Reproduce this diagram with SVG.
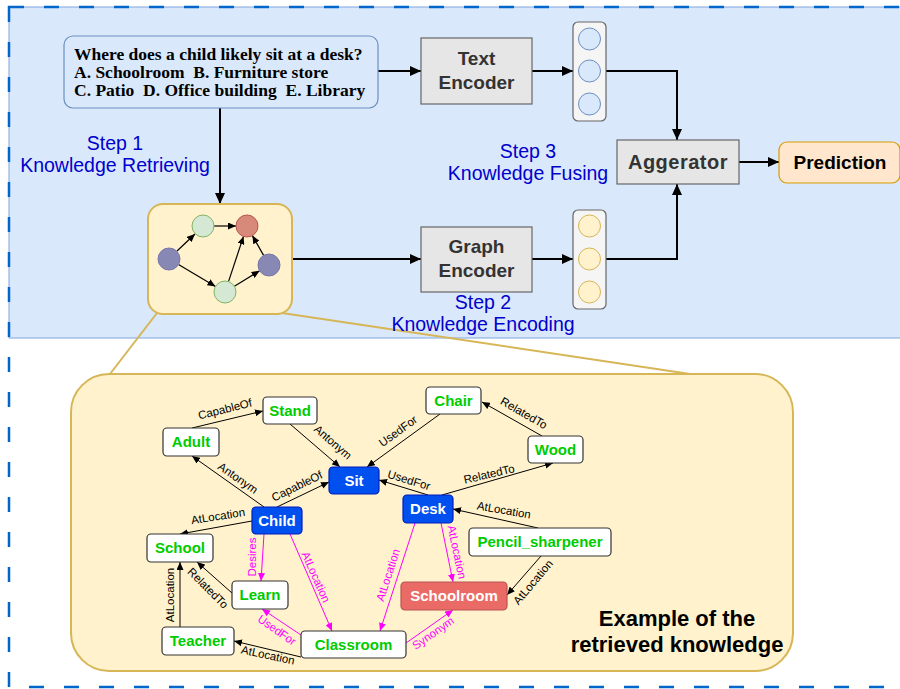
<svg xmlns="http://www.w3.org/2000/svg" width="900" height="689" viewBox="0 0 900 689">
<defs>
<style>
.q{font-family:"Liberation Serif","Times New Roman",serif;font-weight:bold;font-size:17.5px;fill:#000;white-space:pre}
.enc{font-family:"Liberation Sans",Arial,sans-serif;font-weight:bold;font-size:19px;fill:#333;text-anchor:middle}
.step{font-family:"Liberation Sans",Arial,sans-serif;font-size:19.5px;fill:#0000cc;text-anchor:middle}
.box{fill:#e6e6e6;stroke:#666;stroke-width:1.2}
.vec{fill:#f5f5f5;stroke:#666;stroke-width:1.2}
.vb{fill:#dae8fc;stroke:#6c8ebf;stroke-width:1}
.vy{fill:#fff2cc;stroke:#d6b656;stroke-width:1}
.main{stroke:#000;stroke-width:2;fill:none}
.tan{stroke:#d6b656;stroke-width:2;fill:none}
.ic{stroke:#000;stroke-width:1.2;fill:none}
.kn{fill:#fff;stroke:#333;stroke-width:1.2}
.kb{fill:#0050ef;stroke:#001dbc;stroke-width:1.2}
.kr{fill:#ea6b66;stroke:#b85450;stroke-width:1.2}
.nt{font-family:"Liberation Sans",Arial,sans-serif;font-weight:bold;font-size:15px;text-anchor:middle}
.g{fill:#00cc00}
.w{fill:#fff}
.e{stroke:#000;stroke-width:1;fill:none}
.m{stroke:#ff00ff;stroke-width:1;fill:none}
.el{font-family:"Liberation Sans",Arial,sans-serif;font-size:11.5px;fill:#000;text-anchor:middle}
.elm{font-family:"Liberation Sans",Arial,sans-serif;font-size:11.5px;fill:#ff00ff;text-anchor:middle}
.ex{font-family:"Liberation Sans",Arial,sans-serif;font-weight:bold;font-size:22px;fill:#000;text-anchor:middle}
</style>
<marker id="ah" markerUnits="userSpaceOnUse" markerWidth="11" markerHeight="10" refX="11" refY="5" orient="auto"><path d="M0,0 L11,5 L0,10 z" fill="#000"/></marker>
<marker id="ahs" markerUnits="userSpaceOnUse" markerWidth="8" markerHeight="7" refX="8" refY="3.5" orient="auto"><path d="M0,0 L8,3.5 L0,7 z" fill="#000"/></marker>
<marker id="ahm" markerUnits="userSpaceOnUse" markerWidth="8" markerHeight="7" refX="8" refY="3.5" orient="auto"><path d="M0,0 L8,3.5 L0,7 z" fill="#ff00ff"/></marker>
</defs>

<!-- background regions -->
<rect x="9" y="7" width="900" height="331" fill="#dae8fc" stroke="#7ea6e0" stroke-width="1"/>
<rect x="9" y="7" width="920" height="680" fill="none" stroke="#0066cc" stroke-width="2.5" stroke-dasharray="15 20"/>

<!-- zoom connectors -->
<g id="zoom-lines">
<line class="tan" x1="157" y1="313" x2="110" y2="374"/>
<line class="tan" x1="282" y1="313" x2="690" y2="374"/>
</g>

<!-- main connectors -->
<g id="connectors">
<line class="main" x1="378" y1="71" x2="421" y2="71" marker-end="url(#ah)"/>
<line class="main" x1="532" y1="71" x2="573" y2="71" marker-end="url(#ah)"/>
<polyline class="main" points="606,71 677,71 677,140" marker-end="url(#ah)"/>
<line class="main" x1="220" y1="108" x2="220" y2="204" marker-end="url(#ah)"/>
<line class="main" x1="292" y1="259" x2="421" y2="259" marker-end="url(#ah)"/>
<line class="main" x1="532" y1="259" x2="573" y2="259" marker-end="url(#ah)"/>
<polyline class="main" points="606,259 677,259 677,184" marker-end="url(#ah)"/>
<line class="main" x1="739" y1="162" x2="779" y2="162" marker-end="url(#ah)"/>
</g>

<g id="question">
<rect x="64" y="36" width="314" height="72" rx="9" fill="#dae8fc" stroke="#6c8ebf" stroke-width="1.2"/>
<text class="q" x="74" y="60">Where does a child likely sit at a desk?</text>
<text class="q" x="74" y="78">A. Schoolroom  B. Furniture store</text>
<text class="q" x="74" y="96">C. Patio  D. Office building  E. Library</text>
</g>

<g id="text-encoder">
<rect class="box" x="421" y="38" width="111" height="66"/>
<text class="enc" x="476.5" y="65">Text</text>
<text class="enc" x="476.5" y="89">Encoder</text>
</g>

<g id="text-vector">
<rect class="vec" x="573" y="22" width="33" height="99" rx="5"/>
<circle class="vb" cx="589.5" cy="39" r="11"/>
<circle class="vb" cx="589.5" cy="71" r="11"/>
<circle class="vb" cx="589.5" cy="104" r="11"/>
</g>

<g id="graph-encoder">
<rect class="box" x="421" y="227" width="111" height="65"/>
<text class="enc" x="476.5" y="253">Graph</text>
<text class="enc" x="476.5" y="277">Encoder</text>
</g>

<g id="graph-vector">
<rect class="vec" x="573" y="210" width="33" height="99" rx="5"/>
<circle class="vy" cx="589.5" cy="226" r="11"/>
<circle class="vy" cx="589.5" cy="259" r="11"/>
<circle class="vy" cx="589.5" cy="292" r="11"/>
</g>

<g id="aggregator">
<rect class="box" x="617" y="140" width="122" height="44"/>
<text class="enc" x="678" y="169" style="font-size:20px;letter-spacing:0.5px">Aggerator</text>
</g>

<g id="prediction">
<rect x="779" y="142" width="121" height="41" rx="8" fill="#ffe6cc" stroke="#d79b00" stroke-width="1.2"/>
<text class="enc" x="840" y="169" style="fill:#000">Prediction</text>
</g>

<g id="step1">
<text class="step" x="115" y="150">Step 1</text>
<text class="step" x="115" y="172">Knowledge Retrieving</text>
</g>
<g id="step2">
<text class="step" x="483" y="309">Step 2</text>
<text class="step" x="483" y="331">Knowledge Encoding</text>
</g>
<g id="step3">
<text class="step" x="528" y="158">Step 3</text>
<text class="step" x="528" y="180">Knowledge Fusing</text>
</g>

<g id="graph-icon">
<rect x="148" y="204" width="144" height="110" rx="15" fill="#fff2cc" stroke="#d6b656" stroke-width="2"/>
<line class="ic" x1="177" y1="251" x2="195" y2="234" marker-end="url(#ahs)"/>
<line class="ic" x1="214" y1="226" x2="236" y2="226" marker-end="url(#ahs)"/>
<line class="ic" x1="178.5" y1="264.6" x2="215.5" y2="286.4" marker-end="url(#ahs)"/>
<line class="ic" x1="228.5" y1="281.6" x2="243.5" y2="236.4" marker-end="url(#ahs)"/>
<line class="ic" x1="234.4" y1="286.2" x2="259.6" y2="270.8" marker-end="url(#ahs)"/>
<line class="ic" x1="263.6" y1="255.4" x2="252.4" y2="235.6" marker-end="url(#ahs)"/>
<circle cx="203" cy="226" r="11" fill="#d5e8d4" stroke="#82b366"/>
<circle cx="247" cy="226" r="11" fill="#d88a7a" stroke="#b85450"/>
<circle cx="169" cy="259" r="11" fill="#8888b5" stroke="#7777aa"/>
<circle cx="269" cy="265" r="11" fill="#8888b5" stroke="#7777aa"/>
<circle cx="225" cy="292" r="11" fill="#d5e8d4" stroke="#82b366"/>
</g>

<g id="knowledge-box">
<rect x="71" y="374" width="722" height="297" rx="38" fill="#fff2cc" stroke="#d6b656" stroke-width="2"/>
<text class="ex" x="677" y="626">Example of the</text>
<text class="ex" x="677" y="652">retrieved knowledge</text>
</g>

<!-- knowledge graph edges -->
<g id="kg-edges">
<line class="e" x1="192" y1="428" x2="263" y2="411" marker-end="url(#ahs)"/>
<text class="el" transform="translate(225,409) rotate(-14)" dy="0.35em">CapableOf</text>
<line class="e" x1="290" y1="424" x2="340" y2="467" marker-end="url(#ahs)"/>
<text class="el" transform="translate(333,442) rotate(41)" dy="0.35em">Antonym</text>
<line class="e" x1="264" y1="507" x2="192" y2="456" marker-end="url(#ahs)"/>
<text class="el" transform="translate(238,478) rotate(35)" dy="0.35em">Antonym</text>
<line class="e" x1="277" y1="507" x2="329" y2="482" marker-end="url(#ahs)"/>
<text class="el" transform="translate(297,486) rotate(-26)" dy="0.35em">CapableOf</text>
<line class="e" x1="252" y1="521" x2="180" y2="534" marker-end="url(#ahs)"/>
<text class="el" transform="translate(218,516) rotate(-9)" dy="0.35em">AtLocation</text>
<line class="e" x1="440" y1="414" x2="367" y2="467" marker-end="url(#ahs)"/>
<text class="el" transform="translate(398,431) rotate(-36)" dy="0.35em">UsedFor</text>
<line class="e" x1="542" y1="436" x2="482" y2="402" marker-end="url(#ahs)"/>
<text class="el" transform="translate(524,413) rotate(30)" dy="0.35em">RelatedTo</text>
<line class="e" x1="428" y1="495" x2="379" y2="480" marker-end="url(#ahs)"/>
<text class="el" transform="translate(409,480) rotate(17)" dy="0.35em">UsedFor</text>
<line class="e" x1="442" y1="495" x2="553" y2="463" marker-end="url(#ahs)"/>
<text class="el" transform="translate(489,474) rotate(-13)" dy="0.35em">RelatedTo</text>
<line class="e" x1="538" y1="528" x2="453" y2="509" marker-end="url(#ahs)"/>
<text class="el" transform="translate(504,510) rotate(10)" dy="0.35em">AtLocation</text>
<line class="e" x1="541" y1="556" x2="507" y2="595" marker-end="url(#ahs)"/>
<text class="el" transform="translate(533,582) rotate(-50)" dy="0.35em">AtLocation</text>
<line class="e" x1="301" y1="657" x2="234" y2="641" marker-end="url(#ahs)"/>
<text class="el" transform="translate(268,655) rotate(12)" dy="0.35em">AtLocation</text>
<line class="e" x1="180" y1="627" x2="180" y2="562" marker-end="url(#ahs)"/>
<text class="el" transform="translate(170,595) rotate(-90)" dy="0.35em">AtLocation</text>
<line class="e" x1="232" y1="593" x2="197" y2="562" marker-end="url(#ahs)"/>
<text class="el" transform="translate(208,588) rotate(45)" dy="0.35em">RelatedTo</text>
<line class="m" x1="441" y1="523" x2="453" y2="582" marker-end="url(#ahm)"/>
<text class="elm" transform="translate(457,552) rotate(78)" dy="0.35em">AtLocation</text>
<line class="m" x1="415" y1="523" x2="380" y2="631" marker-end="url(#ahm)"/>
<text class="elm" transform="translate(388,575) rotate(-72)" dy="0.35em">AtLocation</text>
<line class="m" x1="264" y1="534" x2="261" y2="581" marker-end="url(#ahm)"/>
<text class="elm" transform="translate(252,557) rotate(-90)" dy="0.35em">Desires</text>
<line class="m" x1="290" y1="534" x2="332" y2="631" marker-end="url(#ahm)"/>
<text class="elm" transform="translate(316,577) rotate(66)" dy="0.35em">AtLocation</text>
<line class="m" x1="301" y1="635" x2="262" y2="609" marker-end="url(#ahm)"/>
<text class="elm" transform="translate(277,630) rotate(35)" dy="0.35em">UsedFor</text>
<line class="m" x1="406" y1="643" x2="453" y2="610" marker-end="url(#ahm)"/>
<text class="elm" transform="translate(433,633) rotate(-35)" dy="0.35em">Synonym</text>
</g>

<!-- knowledge graph nodes -->
<g id="n-stand"><rect class="kn" x="263" y="397" width="54" height="27" rx="4"/><text class="nt g" x="290" y="416">Stand</text></g>
<g id="n-adult"><rect class="kn" x="163" y="428" width="56" height="28" rx="4"/><text class="nt g" x="191" y="447">Adult</text></g>
<g id="n-sit"><rect class="kb" x="329" y="467" width="50" height="27" rx="4"/><text class="nt w" x="354" y="486">Sit</text></g>
<g id="n-child"><rect class="kb" x="252" y="507" width="50" height="27" rx="4"/><text class="nt w" x="277" y="526">Child</text></g>
<g id="n-school"><rect class="kn" x="147" y="534" width="66" height="28" rx="4"/><text class="nt g" x="180" y="553">School</text></g>
<g id="n-learn"><rect class="kn" x="232" y="581" width="56" height="28" rx="4"/><text class="nt g" x="260" y="600">Learn</text></g>
<g id="n-teacher"><rect class="kn" x="162" y="627" width="72" height="28" rx="4"/><text class="nt g" x="198" y="646">Teacher</text></g>
<g id="n-classroom"><rect class="kn" x="301" y="631" width="105" height="27" rx="4"/><text class="nt g" x="353.5" y="650">Classroom</text></g>
<g id="n-chair"><rect class="kn" x="426" y="387" width="55" height="27" rx="4"/><text class="nt g" x="453.5" y="406">Chair</text></g>
<g id="n-wood"><rect class="kn" x="528" y="436" width="55" height="27" rx="4"/><text class="nt g" x="555.5" y="455">Wood</text></g>
<g id="n-desk"><rect class="kb" x="403" y="495" width="50" height="28" rx="4"/><text class="nt w" x="428" y="514">Desk</text></g>
<g id="n-pencil"><rect class="kn" x="469" y="528" width="142" height="28" rx="4"/><text class="nt g" x="540" y="547">Pencil_sharpener</text></g>
<g id="n-schoolroom"><rect class="kr" x="401" y="582" width="106" height="28" rx="4"/><text class="nt w" x="454" y="601">Schoolroom</text></g>
</svg>
